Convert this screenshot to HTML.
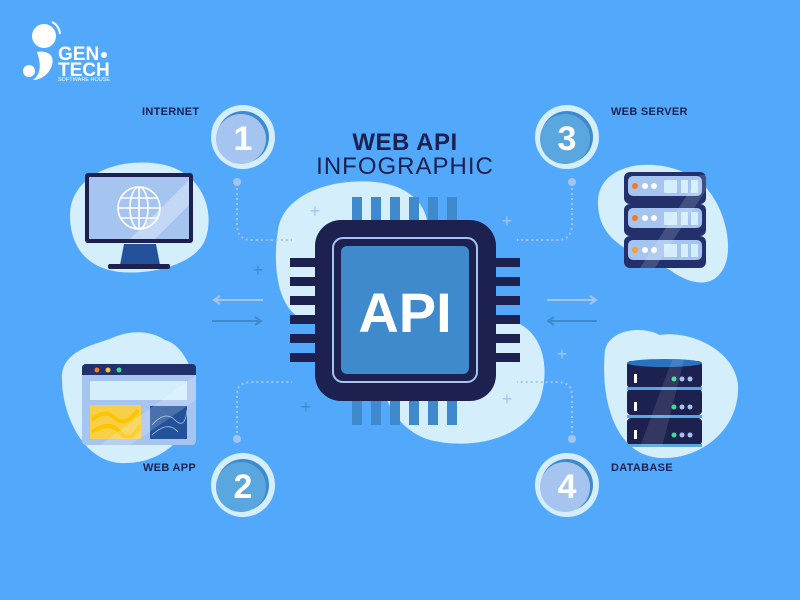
<!DOCTYPE html>
<html><head><meta charset="utf-8"><style>
body{margin:0;width:800px;height:600px;overflow:hidden;background:#52A9FB;font-family:"Liberation Sans",sans-serif}
svg{display:block}
</style></head><body>
<svg width="800" height="600" viewBox="0 0 800 600" xmlns="http://www.w3.org/2000/svg">
<rect width="800" height="600" fill="#52A9FB"/>
<g fill="#D4EEFC">
<path d="M70 215 C70 175 120 155 165 165 C205 175 215 215 205 240 C195 265 150 275 120 272 C85 268 70 245 70 215Z"/>
<path d="M598 200 C600 165 650 155 690 175 C720 190 735 240 725 265 C715 290 690 285 670 270 C640 255 596 245 598 200Z"/>
<path d="M62 380 C60 350 95 345 112 338 C130 330 150 330 165 340 C185 345 200 380 195 410 C185 440 160 465 120 463 C80 460 62 410 62 380Z"/>
<path d="M605 350 C610 330 640 325 660 335 C690 330 735 350 738 385 C740 430 700 460 660 458 C615 455 600 400 605 350Z"/>
<path d="M278 230 C283 195 330 178 375 182 C420 186 440 220 420 255 C400 290 350 335 305 320 C275 310 273 260 278 230Z"/>
<path d="M385 360 C400 330 460 310 510 320 C545 330 550 370 540 400 C525 440 470 450 430 440 C395 430 375 390 385 360Z"/>
</g>
<g fill="#fff">
<circle cx="44" cy="36" r="12"/>
<path d="M37 52 C47 50 55 55 52 65 C49 75 40 80 33 80 C40 75 42 66 37 52Z"/>
<circle cx="29" cy="71" r="6"/>
<path d="M52 22 A14 14 0 0 1 60 34" fill="none" stroke="#fff" stroke-width="2"/>
<text x="58" y="60" font-size="19" font-weight="bold">GEN</text>
<circle cx="104" cy="55" r="3"/>
<text x="58" y="76" font-size="19" font-weight="bold">TECH</text>
<text x="58" y="81" font-size="5.5">SOFTWARE HOUSE</text>
</g>
<text x="405" y="150" text-anchor="middle" font-size="24" font-weight="bold" fill="#1C2150" letter-spacing="0.5">WEB API</text>
<text x="405" y="174" text-anchor="middle" font-size="24" fill="#1C2150" letter-spacing="1">INFOGRAPHIC</text>
<g font-size="11" font-weight="bold" fill="#1C2150" letter-spacing="0.3">
<text x="142" y="115">INTERNET</text>
<text x="611" y="115">WEB SERVER</text>
<text x="143" y="471">WEB APP</text>
<text x="611" y="471">DATABASE</text>
</g>
<g>
<circle cx="243" cy="137" r="32" fill="#D4EEFC"/><circle cx="243" cy="137" r="26" fill="#3F8ACD"/><circle cx="241" cy="139" r="25" fill="#A6C4F0"/>
<circle cx="567" cy="137" r="32" fill="#D4EEFC"/><circle cx="567" cy="137" r="26" fill="#3F8ACD"/><circle cx="565" cy="139" r="25" fill="#5AA6DF"/>
<circle cx="243" cy="485" r="32" fill="#D4EEFC"/><circle cx="243" cy="485" r="26" fill="#3F8ACD"/><circle cx="241" cy="487" r="25" fill="#5AA6DF"/>
<circle cx="567" cy="485" r="32" fill="#D4EEFC"/><circle cx="567" cy="485" r="26" fill="#3F8ACD"/><circle cx="565" cy="487" r="25" fill="#A6C4F0"/>
</g>
<g font-size="34" font-weight="bold" fill="#fff" text-anchor="middle">
<text x="243" y="150">1</text><text x="567" y="150">3</text><text x="243" y="498">2</text><text x="567" y="498">4</text>
</g>
<g fill="none" stroke="#A6C4F0" stroke-width="2" stroke-dasharray="2 3">
<path d="M237 183 V225 Q237 240 252 240 H292"/>
<path d="M572 183 V225 Q572 240 557 240 H517"/>
<path d="M237 438 V395 Q237 382 252 382 H292"/>
<path d="M572 438 V395 Q572 382 557 382 H517"/>
</g>
<g fill="#A6C4F0"><circle cx="237" cy="182" r="4"/><circle cx="572" cy="182" r="4"/><circle cx="237" cy="439" r="4"/><circle cx="572" cy="439" r="4"/></g>
<g stroke-width="2" fill="none">
<path d="M214 300 H263 M220 296 L214 300 L220 304" stroke="#A6C4F0"/>
<path d="M212 321 H261 M255 317 L261 321 L255 325" stroke="#3F8ACD"/>
<path d="M547 300 H596 M590 296 L596 300 L590 304" stroke="#A6C4F0"/>
<path d="M548 321 H597 M554 317 L548 321 L554 325" stroke="#3F8ACD"/>
</g>
<g font-size="18" fill="#A6C4F0" text-anchor="middle">
<text x="315" y="217">+</text><text x="507" y="227">+</text><text x="562" y="360">+</text><text x="507" y="405">+</text>
</g>
<g font-size="18" fill="#3F8ACD" text-anchor="middle"><text x="258" y="276">+</text><text x="306" y="413">+</text></g>
<g fill="#3F8ACD">
<rect x="352" y="197" width="10" height="24"/><rect x="371" y="197" width="10" height="24"/><rect x="390" y="197" width="10" height="24"/><rect x="409" y="197" width="10" height="24"/><rect x="428" y="197" width="10" height="24"/><rect x="447" y="197" width="10" height="24"/>
<rect x="352" y="399" width="10" height="26"/><rect x="371" y="399" width="10" height="26"/><rect x="390" y="399" width="10" height="26"/><rect x="409" y="399" width="10" height="26"/><rect x="428" y="399" width="10" height="26"/><rect x="447" y="399" width="10" height="26"/>
</g>
<g fill="#1C2150">
<rect x="290" y="258" width="28" height="9"/><rect x="290" y="277" width="28" height="9"/><rect x="290" y="296" width="28" height="9"/><rect x="290" y="315" width="28" height="9"/><rect x="290" y="334" width="28" height="9"/><rect x="290" y="353" width="28" height="9"/>
<rect x="494" y="258" width="26" height="9"/><rect x="494" y="277" width="26" height="9"/><rect x="494" y="296" width="26" height="9"/><rect x="494" y="315" width="26" height="9"/><rect x="494" y="334" width="26" height="9"/><rect x="494" y="353" width="26" height="9"/>
<rect x="315" y="220" width="181" height="181" rx="26"/>
</g>
<rect x="333" y="238" width="144" height="144" rx="10" fill="none" stroke="#A6C4F0" stroke-width="2"/>
<rect x="341" y="246" width="128" height="128" rx="6" fill="#3F8ACD"/>
<text x="405" y="332" text-anchor="middle" font-size="56" font-weight="bold" fill="#fff">API</text>
<rect x="85" y="173" width="108" height="70" rx="3" fill="#1C2150"/>
<rect x="89" y="177" width="100" height="62" fill="#A6C4F0"/>
<path d="M130 239 L189 180 V205 L155 239Z" fill="#C4D8F6"/>
<path d="M124 244 H156 L160 265 H120Z" fill="#23529A"/>
<rect x="108" y="264" width="62" height="5" rx="2" fill="#1C2150"/>
<g fill="none" stroke="#fff" stroke-width="1.6"><circle cx="139" cy="208" r="21"/><ellipse cx="139" cy="208" rx="9" ry="21"/><path d="M118 208H160M121 198H157M121 218H157M139 187V229"/></g>
<rect x="82" y="364" width="114" height="81" rx="4" fill="#A6C4F0"/>
<path d="M82 368 Q82 364 86 364 H192 Q196 364 196 368 V375 H82Z" fill="#23306B"/>
<circle cx="97" cy="370" r="2.5" fill="#F07A2A"/><circle cx="108" cy="370" r="2.5" fill="#F5C33B"/><circle cx="119" cy="370" r="2.5" fill="#3DDC97"/>
<rect x="90" y="381" width="97" height="19" fill="#D4EEFC"/>
<rect x="90" y="405" width="51" height="34" fill="#F7D04A"/>
<path d="M92 420 Q105 408 115 418 T138 410 M92 432 Q110 420 120 432 T140 425" stroke="#FFC400" stroke-width="4" fill="none"/>
<rect x="150" y="406" width="37" height="33" fill="#23529A"/>
<path d="M152 425 Q165 410 175 420 T187 410 M152 435 Q168 420 178 432" stroke="#A6C4F0" stroke-width="0.8" fill="none"/>
<path d="M100 445 L196 375 V400 L130 445Z" fill="#fff" opacity="0.18"/>
<g>
<rect x="624" y="172" width="82" height="32" rx="6" fill="#23306B"/>
<rect x="628" y="176" width="74" height="20" rx="5" fill="#A6C4F0"/>
<rect x="624" y="204" width="82" height="32" rx="6" fill="#23306B"/>
<rect x="628" y="208" width="74" height="20" rx="5" fill="#A6C4F0"/>
<rect x="624" y="236" width="82" height="32" rx="6" fill="#23306B"/>
<rect x="628" y="240" width="74" height="20" rx="5" fill="#A6C4F0"/>
<g fill="#fff"><circle cx="645" cy="186" r="3"/><circle cx="654" cy="186" r="3"/><circle cx="645" cy="218" r="3"/><circle cx="654" cy="218" r="3"/><circle cx="645" cy="250" r="3"/><circle cx="654" cy="250" r="3"/></g>
<g fill="#F07A2A"><circle cx="635" cy="186" r="3"/><circle cx="635" cy="218" r="3"/><circle cx="635" cy="250" r="3" fill="#F5A030"/></g>
<g fill="#D4EEFC"><rect x="664" y="180" width="13" height="13" rx="1"/><rect x="681" y="180" width="7" height="13"/><rect x="691" y="180" width="7" height="13"/><rect x="664" y="212" width="13" height="13"/><rect x="681" y="212" width="7" height="13"/><rect x="691" y="212" width="7" height="13"/><rect x="664" y="244" width="13" height="13"/><rect x="681" y="244" width="7" height="13"/><rect x="691" y="244" width="7" height="13"/></g>
<path d="M640 268 L700 175 H706 V190 L655 268Z" fill="#fff" opacity="0.15"/>
</g>
<g>
<rect x="627" y="361" width="75" height="27" rx="4" fill="#1C2150"/>
<rect x="627" y="389" width="75" height="26" rx="4" fill="#1C2150"/>
<rect x="627" y="418" width="75" height="27" rx="4" fill="#1C2150"/>
<ellipse cx="664.5" cy="363" rx="37.5" ry="4" fill="#2A72C0"/>
<rect x="627" y="387" width="75" height="3" fill="#5AA6DF"/><rect x="627" y="415" width="75" height="3" fill="#5AA6DF"/><rect x="627" y="444" width="75" height="3" fill="#5AA6DF"/>
<g fill="#fff"><rect x="634" y="374" width="3" height="9"/><rect x="634" y="402" width="3" height="9"/><rect x="634" y="430" width="3" height="9"/></g>
<g fill="#3DDC97"><circle cx="674" cy="379" r="2.5"/><circle cx="674" cy="407" r="2.5"/><circle cx="674" cy="435" r="2.5"/></g>
<g fill="#A6C4F0"><circle cx="682" cy="379" r="2.5"/><circle cx="690" cy="379" r="2.5"/><circle cx="682" cy="407" r="2.5"/><circle cx="690" cy="407" r="2.5"/><circle cx="682" cy="435" r="2.5"/><circle cx="690" cy="435" r="2.5"/></g>
<path d="M640 447 L672 360 H684 L662 447Z" fill="#fff" opacity="0.1"/>
</g>
</svg>
</body></html>
